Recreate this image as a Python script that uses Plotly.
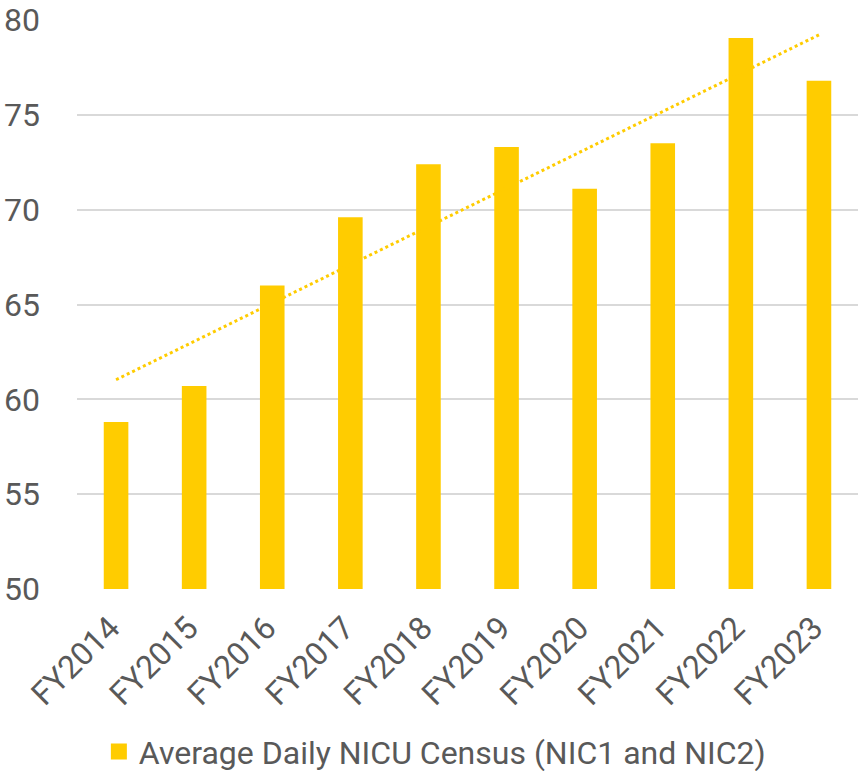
import numpy as np
import plotly.graph_objects as go

categories = ["FY2014", "FY2015", "FY2016", "FY2017", "FY2018",
              "FY2019", "FY2020", "FY2021", "FY2022", "FY2023"]
census = [58.8, 60.7, 66.0, 69.6, 72.4, 73.3, 71.1, 73.5, 79.05, 76.8]
series_name = "Average Daily NICU Census (NIC1 and NIC2)"
y_ticks = [50, 55, 60, 65, 70, 75, 80]

idx = np.arange(len(census))
slope, intercept = np.polyfit(idx, census, 1)
trend = (slope * idx + intercept).tolist()

YELLOW = "#FFCC00"
GRAY = "#595959"
FONT = "Roboto"
FS = 32
PAD = "\u00a0"

fig = go.Figure()
fig.add_trace(go.Bar(
    x=categories, y=census, name=series_name,
    marker=dict(color=YELLOW, line=dict(width=0)),
    showlegend=False,
))
fig.add_trace(go.Scatter(
    x=categories, y=trend, mode="lines",
    line=dict(color=YELLOW, width=3, dash="dot"),
    showlegend=False, hoverinfo="skip",
))
# legend entry with a larger square swatch
fig.add_trace(go.Scatter(
    x=[None], y=[None], mode="markers", name=series_name,
    marker=dict(symbol="square", size=17, color=YELLOW),
    showlegend=True,
))

fig.update_layout(
    width=858, height=771,
    margin=dict(l=77, r=0, t=20, b=182, autoexpand=False),
    plot_bgcolor="white", paper_bgcolor="white",
    bargap=0.685,
    font=dict(family=FONT, color=GRAY, size=FS),
    xaxis=dict(
        type="category", tickangle=-45, showgrid=False, zeroline=False,
        showline=False, ticks="", tickfont=dict(size=FS, color=GRAY),
        tickvals=categories, ticktext=[c + PAD for c in categories],
        automargin=False, ticklabelstandoff=7,
    ),
    yaxis=dict(
        range=[50, 80], tickvals=y_ticks, showgrid=True,
        gridcolor="#D9D9D9", gridwidth=2, zeroline=False, showline=False,
        ticks="", tickfont=dict(size=FS, color=GRAY), ticklabelstandoff=36,
        automargin=False,
    ),
    legend=dict(
        orientation="h", x=0.028, xanchor="left",
        y=-0.286, yanchor="middle",
        bgcolor="rgba(0,0,0,0)",
        font=dict(size=FS, color=GRAY), itemwidth=30,
    ),
)

fig.write_html(
    "out.html",
    config={"displayModeBar": False},
    post_script="document.body.style.margin='0';document.body.style.overflow='hidden';",
)
